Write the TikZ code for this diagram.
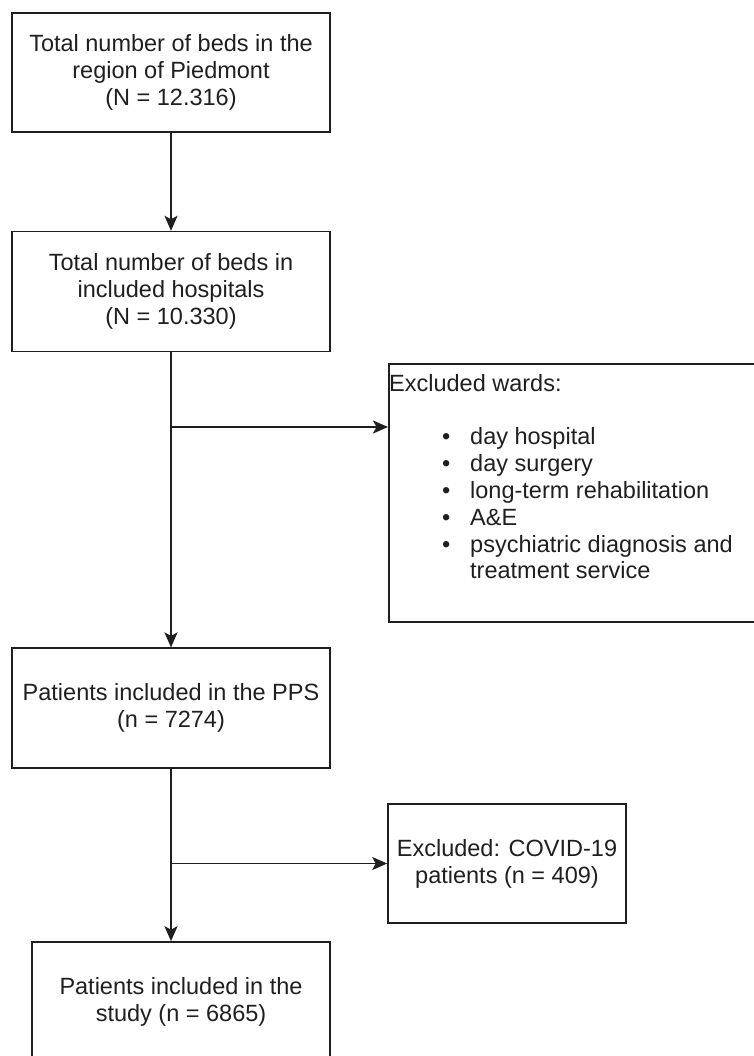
\documentclass[tikz,border=0pt]{standalone}
\usepackage{fontspec}
\setmainfont{Liberation Sans}
\usetikzlibrary{positioning}
\usetikzlibrary{arrows.meta}

\newcommand{\warditem}[1]{\hspace*{53pt}\makebox[28pt][l]{\textbullet}#1}

\begin{document}
\begin{tikzpicture}[>={Stealth[length=15pt,width=13pt,inset=3.5pt]}, x=1pt, y=-1pt]
    \tikzset{block/.style= {draw, rectangle, align=center, line width=1.6pt, draw=black!88, text=black!88,
                            font=\fontsize{23.5}{27}\selectfont, minimum width=318pt, minimum height=120pt, inner sep=0pt},}
    \tikzset{link/.style= {line width=1.8pt, draw=black!88},}

    \useasboundingbox (0,0) rectangle (753,1056);

    \node [block, minimum height=119pt] (beds) at (171,72.5) {Total number of beds in the\\region of Piedmont\\(N = 12.316)};
    \node [block, below =98pt of beds] (incl) {Total number of beds in\\included hospitals\\(N = 10.330)};
    \node [block, below =295pt of incl] (pps) {Patients included in the PPS\\(n = 7274)};
    \node [block, minimum width=298pt] (study) at (181,1002) {Patients included in the\\study (n = 6865)};
    \node [block, minimum width=238pt, minimum height=119pt] (covid) at (507,863.5) {Excluded: COVID-19\\patients (n = 409)};

    \node [block, anchor=north west, minimum width=387pt, minimum height=258pt] (wards) at (388,363) {};
    \node [anchor=north west, align=left, inner sep=0pt, text=black!88, font=\fontsize{23.5}{26.8}\selectfont]
        (wardslist) at (389,374) {Excluded wards:\\[26.8pt]
        \warditem{day hospital}\\
        \warditem{day surgery}\\
        \warditem{long-term rehabilitation}\\
        \warditem{A\&E}\\
        \warditem{psychiatric diagnosis and}\\
        \hspace*{81pt}treatment service};

    \coordinate (split1) at (171,427);
    \coordinate (split2) at (171,863.5);

    \draw[link,->] (beds) -- (incl);
    \draw[link,->] (incl.south) -- (pps.north);
    \draw[link,->] (split1) -- (split1 -| wards.west);
    \draw[link,->] (pps.south) -- (pps.south |- study.north);
    \draw[link,->] (split2) -- (covid.west);
\end{tikzpicture}
\end{document}
